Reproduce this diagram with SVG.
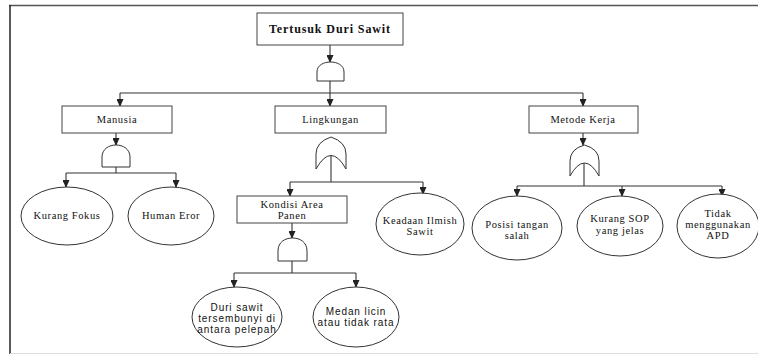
<svg xmlns="http://www.w3.org/2000/svg" width="758" height="354" viewBox="0 0 758 354">
<defs>
<style>
.box{fill:#fff;stroke:#444;stroke-width:1}
.ell{fill:#fff;stroke:#333;stroke-width:1}
.gate{fill:#fff;stroke:#333;stroke-width:1}
.t{font-family:'Liberation Serif','DejaVu Serif',serif;font-size:10.5px;letter-spacing:0.6px;fill:#111;text-anchor:middle}
.ts{font-family:'Liberation Sans','DejaVu Sans',sans-serif;font-size:10px;letter-spacing:0.9px;fill:#111;text-anchor:middle}
.title{font-family:'Liberation Serif','DejaVu Serif',serif;font-size:12px;font-weight:bold;letter-spacing:0.9px;fill:#111;text-anchor:middle}
.c{fill:none;stroke:#333;stroke-width:1.1}
</style>
<marker id="ar" markerWidth="8" markerHeight="7" refX="7" refY="3.5" orient="auto" markerUnits="userSpaceOnUse">
<path d="M0,0 L8,3.5 L0,7 Z" fill="#222"/>
</marker>
</defs>
<rect width="758" height="354" fill="#fff"/>
<g id="frame">
<line x1="9" y1="5.5" x2="758" y2="5.5" stroke="#555" stroke-width="1.5"/>
<line x1="10" y1="5" x2="10" y2="354" stroke="#222" stroke-width="1.5"/>
<line x1="10" y1="353.5" x2="758" y2="353.5" stroke="#ddd" stroke-width="1"/>
</g>
<g id="connectors">
<path class="c" d="M330,45 V62" marker-end="url(#ar)"/>
<path class="c" d="M330,81 V93"/>
<path class="c" d="M120,93 H583"/>
<path class="c" d="M583,93 V106" marker-end="url(#ar)"/>
<path class="c" d="M120,93 V106" marker-end="url(#ar)"/>
<path class="c" d="M330,93 V106" marker-end="url(#ar)"/>
<path class="c" d="M116,133 V145" marker-end="url(#ar)"/>
<path class="c" d="M116,167 V173"/>
<path class="c" d="M66,173 H176"/>
<path class="c" d="M66,173 V187" marker-end="url(#ar)"/>
<path class="c" d="M176,173 V187" marker-end="url(#ar)"/>
<path class="c" d="M331,153 V182"/>
<path class="c" d="M290,182 H423"/>
<path class="c" d="M290,182 V196" marker-end="url(#ar)"/>
<path class="c" d="M423,182 V194" marker-end="url(#ar)"/>
<path class="c" d="M292,223 V238" marker-end="url(#ar)"/>
<path class="c" d="M292,261 V273"/>
<path class="c" d="M234,273 H356"/>
<path class="c" d="M234,273 V287" marker-end="url(#ar)"/>
<path class="c" d="M356,273 V287" marker-end="url(#ar)"/>
<path class="c" d="M583,133 V145" marker-end="url(#ar)"/>
<path class="c" d="M584,163 V186"/>
<path class="c" d="M517,186 H722"/>
<path class="c" d="M517,186 V196" marker-end="url(#ar)"/>
<path class="c" d="M622,186 V196" marker-end="url(#ar)"/>
<path class="c" d="M722,186 V196" marker-end="url(#ar)"/>
</g>
<g id="top">
<rect class="box" x="257" y="13" width="146" height="32"/>
<text class="title" x="330" y="33">Tertusuk Duri Sawit</text>
</g>
<g id="gate-top">
<path class="gate" d="M317,81 V72 C317,65 324,62 330.5,62 C337,62 344,65 344,72 V81 Z"/>
</g>
<g id="manusia">
<rect class="box" x="62" y="106" width="110" height="27"/>
<text class="t" x="117" y="123">Manusia</text>
</g>
<g id="gate-manusia">
<path class="gate" d="M102,167 V157 C102,149 109,145 116,145 C123,145 130,149 130,157 V167 Z"/>
</g>
<g id="kurang-fokus">
<ellipse class="ell" cx="67" cy="216" rx="46" ry="29"/>
<text class="t" x="67" y="219">Kurang Fokus</text>
</g>
<g id="human-eror">
<ellipse class="ell" cx="171" cy="216" rx="43" ry="29"/>
<text class="t" x="171" y="219">Human Eror</text>
</g>
<g id="lingkungan">
<rect class="box" x="275" y="106" width="111" height="27"/>
<text class="t" x="330.5" y="123">Lingkungan</text>
</g>
<g id="gate-lingkungan">
<path class="gate" d="M316,169 V154 Q316,142 331,137 Q346,142 346,154 V169 Q331,142 316,169 Z"/>
</g>
<g id="kondisi">
<rect class="box" x="237" y="196" width="110" height="27"/>
<text class="t" x="292" y="208">Kondisi Area</text>
<text class="t" x="292" y="219">Panen</text>
</g>
<g id="gate-kondisi">
<path class="gate" d="M278,261 V251 C278,242 285,238 292.5,238 C300,238 307,242 307,251 V261 Z"/>
</g>
<g id="duri">
<ellipse class="ell" cx="237" cy="317" rx="45" ry="30"/>
<text class="ts" x="237" y="311">Duri sawit</text>
<text class="ts" x="237" y="322">tersembunyi di</text>
<text class="ts" x="237" y="333">antara pelepah</text>
</g>
<g id="medan">
<ellipse class="ell" cx="356" cy="317" rx="43" ry="30"/>
<text class="ts" x="356" y="315">Medan licin</text>
<text class="ts" x="356" y="326">atau tidak rata</text>
</g>
<g id="keadaan">
<ellipse class="ell" cx="420" cy="224" rx="44" ry="31"/>
<text class="t" x="420" y="224">Keadaan Ilmish</text>
<text class="t" x="420" y="235">Sawit</text>
</g>
<g id="metode">
<rect class="box" x="529" y="106" width="109" height="27"/>
<text class="t" x="583" y="123">Metode Kerja</text>
</g>
<g id="gate-metode">
<path class="gate" d="M570,176 V161 Q570,149 584.5,145 Q599,149 599,161 V176 Q584.5,150 570,176 Z"/>
</g>
<g id="posisi">
<ellipse class="ell" cx="517" cy="228" rx="45" ry="32"/>
<text class="t" x="517" y="228">Posisi tangan</text>
<text class="t" x="517" y="239">salah</text>
</g>
<g id="sop">
<ellipse class="ell" cx="620" cy="226" rx="43" ry="30"/>
<text class="t" x="620" y="222">Kurang SOP</text>
<text class="t" x="620" y="234">yang jelas</text>
</g>
<g id="apd">
<ellipse class="ell" cx="718" cy="226" rx="41" ry="32"/>
<text class="t" x="718" y="217">Tidak</text>
<text class="t" x="718" y="228">menggunakan</text>
<text class="t" x="718" y="239">APD</text>
</g>
</svg>
